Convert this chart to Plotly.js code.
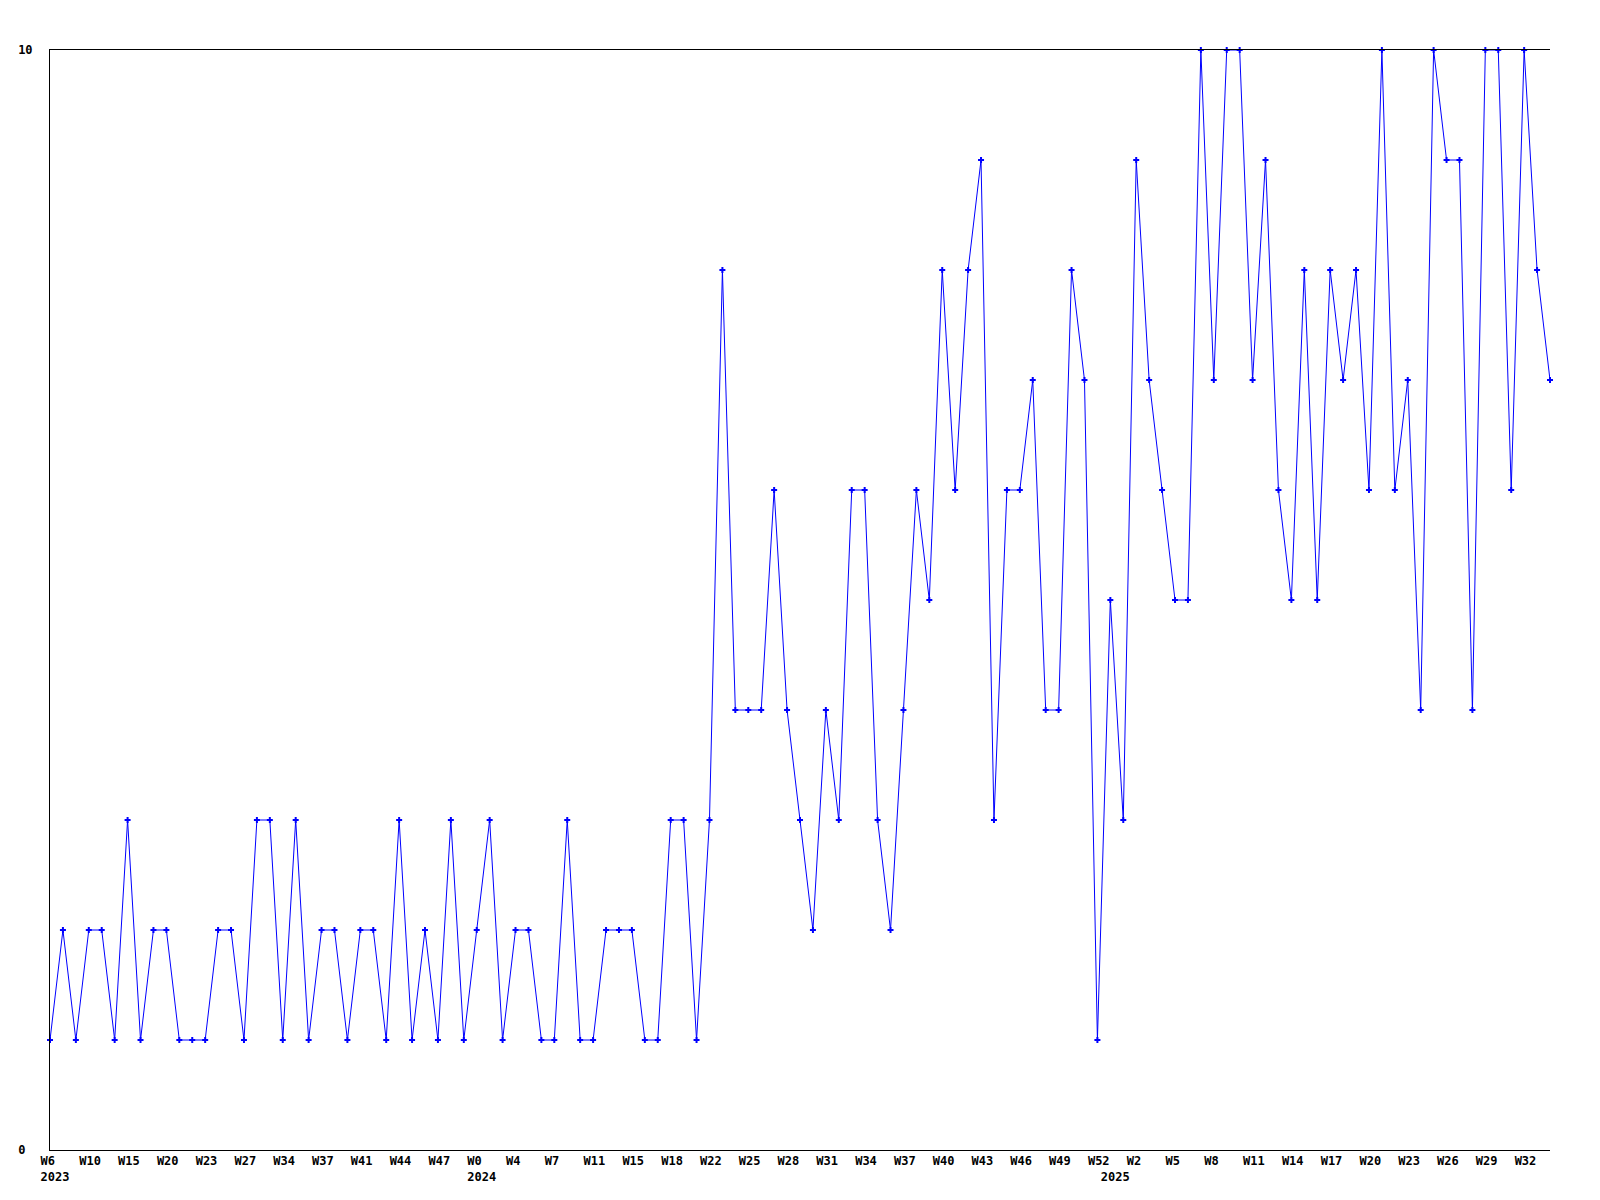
<!DOCTYPE html>
<html>
<head>
<meta charset="utf-8">
<script src="https://cdn.plot.ly/plotly-3.0.1.min.js"></script>
<style>html,body{margin:0;padding:0;background:#fff;}#chart{width:1600px;height:1200px;}</style>
</head>
<body>
<div id="chart"></div>
<script>
// weekly values, one per point
const counts = [
  1,2,1,2,2,1,3,1,2,2,1,1,1,2,2,1,3,3,1,3,
  1,2,2,1,2,2,1,3,1,2,1,3,1,2,3,1,2,2,1,1,
  3,1,1,2,2,2,1,1,3,3,1,3,8,4,4,4,6,4,3,2,
  4,3,6,6,3,2,4,6,5,8,6,8,9,3,6,6,7,4,4,8,
  7,1,5,3,9,7,6,5,5,10,7,10,10,7,9,6,5,8,5,8,
  7,8,6,10,6,7,4,10,9,9,4,10,10,6,10,8,7
];
// tick positions (point index) and their labels
const tickIndex = [0,3,6,9,12,15,18,21,24,27,30,33,36,39,42,45,48,51,54,57,60,63,66,69,72,75,78,81,82,84,87,90,93,96,99,102,105,108,111,114];
const tickLabels = ["W6<br>2023","W10","W15","W20","W23","W27","W34","W37","W41","W44","W47","W0<br>2024","W4","W7","W11","W15","W18","W22","W25","W28","W31","W34","W37","W40","W43","W46","W49","W52","<br>2025","W2","W5","W8","W11","W14","W17","W20","W23","W26","W29","W32"];
const yTickVals = [0, 10];
const yTickLabels = ["0\u00a0", "10"];

const xs = counts.map((_, i) => i);
const fontFam = '"DejaVu Sans Mono", "Liberation Mono", monospace';

Plotly.newPlot('chart', [{
  x: xs,
  y: counts,
  type: 'scatter',
  mode: 'lines+markers',
  line: {color: '#0000ff', width: 1},
  marker: {color: '#0000ff', symbol: 'cross', size: 5, line: {width: 0}},
  cliponaxis: false,
  hoverinfo: 'skip'
}], {
  width: 1600,
  height: 1200,
  margin: {l: 50, r: 50, t: 50, b: 50, pad: 0},
  paper_bgcolor: '#ffffff',
  plot_bgcolor: '#ffffff',
  showlegend: false,
  xaxis: {
    type: 'linear',
    range: [0, counts.length - 1],
    tickmode: 'array',
    tickvals: tickIndex,
    ticktext: tickLabels,
    tickangle: 0,
    ticks: '',
    ticklabelposition: 'outside right',
    ticklabelshift: -10,
    showgrid: false,
    zeroline: false,
    showline: true,
    mirror: true,
    linecolor: '#000000',
    linewidth: 1,
    tickfont: {family: fontFam, size: 12, color: '#000000', weight: 700},
    fixedrange: true
  },
  yaxis: {
    range: [0, 10],
    tickmode: 'array',
    tickvals: yTickVals,
    ticktext: yTickLabels,
    ticks: '',
    ticklabelstandoff: 14,
    showgrid: false,
    zeroline: false,
    showline: true,
    linecolor: '#000000',
    linewidth: 1,
    tickfont: {family: fontFam, size: 12, color: '#000000', weight: 700},
    fixedrange: true
  }
}, {staticPlot: true});
</script>
</body>
</html>
